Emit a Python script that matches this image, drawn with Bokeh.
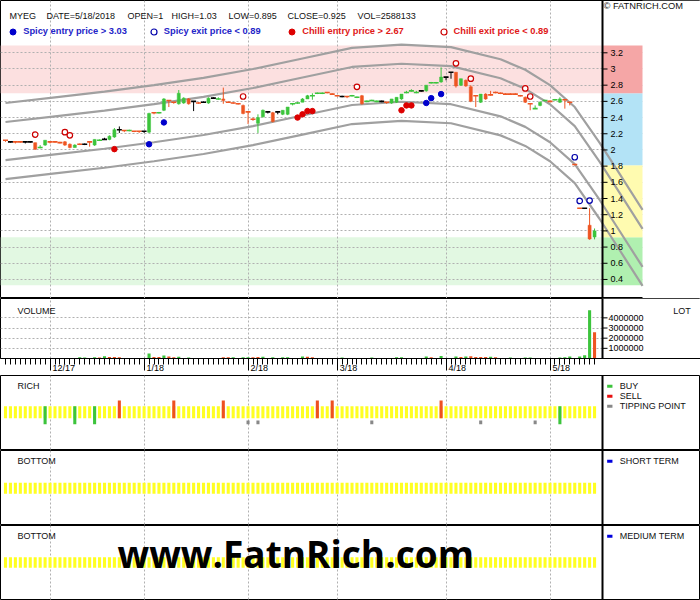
from bokeh.plotting import figure
from bokeh.models import (Range1d, Span, Label, Legend, LegendItem, LinearAxis, FixedTicker,
                          NumeralTickFormatter, Grid)
from bokeh.layouts import column
from bokeh.embed import file_html
from bokeh.resources import INLINE

# ---------------------------------------------------------------- data
header_fields = ["MYEG", "DATE=5/18/2018", "OPEN=1", "HIGH=1.03", "LOW=0.895", "CLOSE=0.925", "VOL=2588133"]
month_labels = ["12/17", "1/18", "2/18", "3/18", "4/18", "5/18"]
month_index = [9, 28, 49, 67, 89, 110]

open_ = [2.12, 2.10, 2.10, 2.10, 2.10, 2.10, 2.09, 2.03, 2.06, 2.10,
         2.10, 2.09, 2.10, 2.07, 2.03, 2.07, 2.07, 2.10, 2.06, 2.12,
         2.13, 2.13, 2.16, 2.25, 2.24, 2.24, 2.23, 2.23, 2.23, 2.22,
         2.46, 2.46, 2.49, 2.61, 2.59, 2.57, 2.58, 2.63, 2.60, 2.58,
         2.59, 2.58, 2.64, 2.63, 2.63, 2.59, 2.58, 2.57, 2.55, 2.47,
         2.38, 2.33, 2.41, 2.47, 2.46, 2.47, 2.44, 2.44, 2.57, 2.58,
         2.59, 2.63, 2.67, 2.70, 2.70, 2.71, 2.69, 2.67, 2.66, 2.66,
         2.67, 2.65, 2.67, 2.60, 2.61, 2.60, 2.60, 2.59, 2.58, 2.59,
         2.63, 2.71, 2.73, 2.71, 2.73, 2.73, 2.83, 2.83, 2.84, 2.90,
         2.96, 2.96, 2.80, 2.86, 2.78, 2.67, 2.59, 2.69, 2.68, 2.71,
         2.70, 2.69, 2.69, 2.69, 2.67, 2.65, 2.57, 2.51, 2.55, 2.61,
         2.60, 2.62, 2.59, 2.62, 2.59, 1.82, 1.28, 1.28, 1.07, 1.00]
high = [2.12, 2.11, 2.10, 2.10, 2.10, 2.11, 2.09, 2.06, 2.12, 2.11,
        2.11, 2.10, 2.11, 2.08, 2.07, 2.08, 2.08, 2.10, 2.13, 2.13,
        2.15, 2.18, 2.27, 2.29, 2.24, 2.25, 2.23, 2.23, 2.23, 2.46,
        2.46, 2.47, 2.64, 2.61, 2.59, 2.74, 2.65, 2.64, 2.60, 2.59,
        2.60, 2.65, 2.65, 2.65, 2.77, 2.60, 2.59, 2.58, 2.56, 2.47,
        2.40, 2.44, 2.50, 2.48, 2.47, 2.47, 2.49, 2.53, 2.58, 2.59,
        2.64, 2.68, 2.70, 2.71, 2.71, 2.71, 2.70, 2.68, 2.67, 2.66,
        2.68, 2.66, 2.68, 2.61, 2.62, 2.61, 2.61, 2.59, 2.63, 2.65,
        2.69, 2.73, 2.75, 2.73, 2.74, 2.80, 2.84, 2.84, 3.02, 2.90,
        2.96, 2.96, 2.88, 2.87, 2.80, 2.67, 2.69, 2.70, 2.73, 2.72,
        2.71, 2.70, 2.70, 2.70, 2.68, 2.66, 2.57, 2.55, 2.60, 2.62,
        2.61, 2.63, 2.65, 2.62, 2.59, 1.82, 1.28, 1.28, 1.28, 1.03]
low = [2.10, 2.09, 2.08, 2.09, 2.08, 2.09, 2.00, 2.02, 2.05, 2.08,
       2.09, 2.08, 2.05, 2.02, 2.03, 2.06, 2.06, 2.04, 2.05, 2.11,
       2.13, 2.12, 2.15, 2.21, 2.22, 2.23, 2.22, 2.21, 2.21, 2.21,
       2.44, 2.45, 2.48, 2.53, 2.57, 2.56, 2.57, 2.56, 2.48, 2.57,
       2.58, 2.57, 2.63, 2.62, 2.57, 2.58, 2.57, 2.56, 2.44, 2.32,
       2.36, 2.21, 2.40, 2.45, 2.34, 2.44, 2.43, 2.43, 2.55, 2.57,
       2.59, 2.63, 2.62, 2.69, 2.69, 2.70, 2.68, 2.66, 2.65, 2.64,
       2.66, 2.64, 2.56, 2.59, 2.60, 2.59, 2.59, 2.57, 2.57, 2.58,
       2.62, 2.70, 2.72, 2.70, 2.72, 2.72, 2.82, 2.82, 2.83, 2.86,
       2.88, 2.77, 2.79, 2.78, 2.59, 2.53, 2.58, 2.62, 2.67, 2.70,
       2.69, 2.68, 2.68, 2.68, 2.66, 2.58, 2.49, 2.51, 2.54, 2.60,
       2.59, 2.61, 2.58, 2.51, 2.55, 1.81, 1.27, 1.27, 0.89, 0.895]
close = [2.12, 2.10, 2.10, 2.10, 2.10, 2.10, 2.01, 2.03, 2.12, 2.10,
         2.10, 2.09, 2.06, 2.03, 2.06, 2.07, 2.07, 2.10, 2.13, 2.12,
         2.13, 2.17, 2.25, 2.25, 2.24, 2.24, 2.23, 2.23, 2.23, 2.45,
         2.46, 2.46, 2.63, 2.61, 2.59, 2.70, 2.64, 2.57, 2.60, 2.58,
         2.59, 2.64, 2.64, 2.63, 2.61, 2.59, 2.58, 2.57, 2.45, 2.47,
         2.38, 2.40, 2.49, 2.47, 2.35, 2.47, 2.49, 2.53, 2.57, 2.58,
         2.63, 2.67, 2.67, 2.70, 2.70, 2.71, 2.69, 2.67, 2.66, 2.66,
         2.67, 2.65, 2.57, 2.60, 2.61, 2.60, 2.60, 2.59, 2.63, 2.65,
         2.69, 2.71, 2.73, 2.71, 2.73, 2.80, 2.83, 2.83, 2.90, 2.90,
         2.96, 2.79, 2.88, 2.79, 2.60, 2.67, 2.69, 2.63, 2.68, 2.71,
         2.70, 2.69, 2.69, 2.69, 2.67, 2.59, 2.57, 2.51, 2.59, 2.61,
         2.60, 2.62, 2.63, 2.62, 2.59, 1.82, 1.28, 1.28, 0.90, 0.925]
# 1 = up (green), -1 = down (red), 0 = unchanged (black)
candle_dir = [-1, 0, -1, -1, 0, 0, -1, 1, 1, -1,
              -1, -1, -1, -1, 1, -1, 0, -1, 1, 1,
              0, 1, 1, 0, -1, 1, -1, -1, 0, 1,
              -1, 1, 1, -1, -1, 1, 1, -1, 0, -1,
              0, 1, 0, 1, -1, -1, -1, -1, -1, -1,
              -1, 1, 1, 0, -1, 0, 1, 1, 1, 1,
              1, 1, 1, 1, 1, -1, -1, -1, 0, -1,
              1, 1, -1, 1, 1, 1, 0, -1, 1, 1,
              1, 1, 1, 1, 0, 1, 1, 1, 1, 0,
              0, -1, 1, -1, -1, -1, 1, -1, -1, -1,
              -1, -1, -1, -1, -1, -1, -1, 1, 1, 1,
              -1, 1, 1, -1, -1, -1, -1, 0, -1, 1]
volume = [30000, 30000, 30000, 30000, 30000, 30000, 30000, 30000, 30000, 30000,
          30000, 30000, 30000, 30000, 30000, 120000, 110000, 30000, 120000, 110000,
          230000, 140000, 140000, 130000, 30000, 30000, 30000, 30000, 30000, 480000,
          150000, 140000, 300000, 200000, 130000, 180000, 30000, 110000, 30000, 30000,
          30000, 30000, 30000, 30000, 120000, 130000, 120000, 30000, 120000, 120000,
          130000, 140000, 170000, 30000, 120000, 30000, 120000, 120000, 30000, 30000,
          200000, 180000, 120000, 30000, 30000, 30000, 30000, 30000, 110000, 30000,
          30000, 30000, 30000, 30000, 110000, 30000, 30000, 30000, 30000, 120000,
          120000, 30000, 30000, 30000, 30000, 200000, 120000, 30000, 250000, 30000,
          30000, 200000, 150000, 200000, 220000, 150000, 150000, 150000, 180000, 130000,
          30000, 30000, 110000, 30000, 30000, 110000, 110000, 30000, 30000, 30000,
          30000, 30000, 110000, 120000, 200000, 30000, 200000, 310000, 4760000, 2588133]
volume_dir = [1, 1, -1, 1, 1, -1, -1, 1, 1, -1,
              -1, 1, -1, -1, 1, 1, 1, 1, 1, -1,
              1, -1, -1, -1, 1, 1, -1, 1, -1, 1,
              -1, -1, 1, -1, -1, 1, 1, 1, -1, 1,
              1, 1, 1, 1, -1, -1, 1, 1, 1, 1,
              -1, -1, 1, 1, 1, 1, 1, 1, 1, 1,
              1, -1, -1, 1, 1, -1, -1, 1, 1, -1,
              1, 1, -1, 1, 1, 1, 1, -1, 1, 1,
              1, 1, 1, 1, 1, 1, -1, 1, 1, 1,
              1, 1, -1, 1, -1, -1, -1, -1, 1, -1,
              1, 1, 1, 1, -1, 1, 1, 1, 1, 1,
              1, 1, 1, 1, 1, -1, 1, 1, 1, -1]

spicy_entry_idx = [29, 32, 85, 86, 88]
spicy_entry_px = [2.07, 2.34, 2.58, 2.64, 2.69]
spicy_exit_idx = [115, 116, 118]
spicy_exit_px = [1.91, 1.37, 1.375]
chilli_entry_idx = [22, 59, 60, 61, 62, 80, 81, 82]
chilli_entry_px = [2.01, 2.40, 2.44, 2.48, 2.48, 2.49, 2.55, 2.55]
chilli_exit_idx = [6, 12, 13, 48, 71, 91, 94, 105, 106]
chilli_exit_px = [2.19, 2.22, 2.18, 2.66, 2.78, 3.07, 2.88, 2.76, 2.66]

trend_idx = [0, 10, 20, 30, 40, 50, 60, 70, 80, 90, 100, 105, 110, 115, 120, 124, 128.7]
trend_mid = [2.11, 2.18, 2.25, 2.33, 2.42, 2.53, 2.66, 2.79, 2.83, 2.80, 2.65, 2.52, 2.33, 2.06, 1.62, 1.24, 0.79]
channel_offsets = [0.47, 0.235, -0.235, -0.47]

zone_edges = [0.33, 0.92, 1.81, 2.70, 3.29]
price_ticks = [0.4, 0.6, 0.8, 1.0, 1.2, 1.4, 1.6, 1.8, 2.0, 2.2, 2.4, 2.6, 2.8, 3.0, 3.2]
volume_ticks = [1000000, 2000000, 3000000, 4000000]

rich_buy = [8, 14, 18, 112]
rich_sell = [23, 34, 44, 63, 66, 88]
rich_tip = [49, 51, 74, 96, 107]
short_term_signals = []
medium_term_signals = []

legend_texts = ["Spicy entry price > 3.03", "Spicy exit price < 0.89",
                "Chilli entry price > 2.67", "Chilli exit price < 0.89"]

# ---------------------------------------------------------------- layout helpers
W = 700
X0, DX = 5.0, 4.95          # pixel of day 0, pixels per trading day


def xi(xr):
    return (xr - X0) / DX


XL, XR = xi(0), xi(700)
XDIV, XTICK, XSTRIP = xi(602), xi(607), xi(642)
FONT = "Liberation Sans"
FS = "9px"

GREEN = "#3cc43c"
RED = "#ee5522"
BLACK = "#000000"
GRID = "#b0b0b0"
YELLOW = "#ffff22"
COL = {1: GREEN, -1: RED, 0: BLACK}

n = len(close)
idx = list(range(n))


def base_fig(h, yr):
    p = figure(width=W, height=h, x_range=Range1d(XL, XR), y_range=yr,
               output_backend="svg", toolbar_location=None,
               x_axis_location=None, y_axis_location=None,
               min_border=0, min_border_left=0, min_border_right=0,
               min_border_top=0, min_border_bottom=0)
    p.center = [c for c in p.center if not isinstance(c, Grid)]
    p.outline_line_color = "black"
    p.outline_line_width = 1
    p.background_fill_color = "white"
    p.border_fill_color = "white"
    p.add_layout(Grid(dimension=0, ticker=FixedTicker(ticks=month_index),
                      grid_line_color=GRID, grid_line_dash="2 2", grid_line_width=1))
    p.add_layout(Span(location=XDIV, dimension="height", line_color="black", line_width=2))
    return p


def txt(p, x, y, s, size=9.0, color="#111111", bold=False, font=FONT):
    p.add_layout(Label(x=x, y=y, text=s, text_font=font, text_font_size="%.2fpx" % size,
                       text_color=color, text_font_style="bold" if bold else "normal",
                       text_align="left", text_baseline="middle"))


# ---------------------------------------------------------------- price panel
H_P = 298


def PY(yr):
    return 3.2 - (yr - 52.3) / 80.95


pr = base_fig(H_P, Range1d(PY(298), PY(0)))
pr.add_layout(Grid(dimension=1, ticker=FixedTicker(ticks=price_ticks),
                   grid_line_color=GRID, grid_line_dash="2 2", grid_line_width=1))
pr.quad(left=[XL, XL], right=[XDIV, XDIV], bottom=[zone_edges[3], zone_edges[0]],
        top=[zone_edges[4], zone_edges[1]], fill_color=["#fce0e0", "#e2f8e2"],
        line_color=None, level="image")
pr.quad(left=[XSTRIP], right=[XR], bottom=[PY(298)], top=[PY(0)], fill_color="white", line_color=None)
pr.quad(left=[XDIV] * 4, right=[XSTRIP] * 4, bottom=zone_edges[:4], top=zone_edges[1:],
        fill_color=["#b0f0b0", "#fffbb0", "#b3e3f6", "#f5a6a6"], line_color=None)
for off in channel_offsets:
    pr.line(trend_idx, [m + off for m in trend_mid], line_color="#a0a0a0", line_width=2.2)
pr.segment(x0=[XDIV] * len(price_ticks), x1=[XTICK] * len(price_ticks), y0=price_ticks, y1=price_ticks,
           line_color="black", line_width=1)
cols = [COL[d] for d in candle_dir]
pr.segment(x0=idx, x1=idx, y0=low, y1=high, line_color=cols, line_width=1)
bi = [i for i in idx if open_[i] != close[i]]
pr.vbar(x=bi, width=0.62, top=[max(open_[i], close[i]) for i in bi],
        bottom=[min(open_[i], close[i]) for i in bi],
        fill_color=[cols[i] for i in bi], line_color=[cols[i] for i in bi], line_width=0.5)
di = [i for i in idx if open_[i] == close[i]]
pr.scatter(x=di, y=[close[i] for i in di], marker="dash", size=5,
           line_color=[cols[i] for i in di], line_width=1.6)
r_se = pr.scatter(spicy_entry_idx, spicy_entry_px, marker="circle", size=5.5,
                  fill_color="#0000cc", line_color="#0000cc")
r_sx = pr.scatter(spicy_exit_idx, spicy_exit_px, marker="circle", size=5.5,
                  fill_color="white", line_color="#0000aa", line_width=1.2)
r_ce = pr.scatter(chilli_entry_idx, chilli_entry_px, marker="circle", size=5.5,
                  fill_color="#dd0000", line_color="#dd0000")
r_cx = pr.scatter(chilli_exit_idx, chilli_exit_px, marker="circle", size=5.5,
                  fill_color="white", line_color="#cc0000", line_width=1.2)

ax = LinearAxis(ticker=FixedTicker(ticks=price_ticks), formatter=NumeralTickFormatter(format="0.[0]"),
                axis_line_color=None, major_tick_line_color=None, minor_tick_line_color=None,
                major_tick_in=0, major_tick_out=0, minor_tick_in=0, minor_tick_out=0,
                major_label_standoff=int(round(609.5 - W)),
                major_label_text_font=FONT, major_label_text_font_size=FS,
                major_label_text_color="black")
pr.add_layout(ax, "right")

hx = [9, 46, 127, 171, 228, 287, 357]
for x, s in zip(hx, header_fields):
    txt(pr, xi(x), PY(15.3), s)
txt(pr, xi(603), PY(5.5), "\u00a9 FATNRICH.COM", size=9.3)

leg_specs = [(r_se, legend_texts[0], 12.7, "#2424c8"),
             (r_sx, legend_texts[1], 153.3, "#2424c8"),
             (r_ce, legend_texts[2], 291.7, "#e01818"),
             (r_cx, legend_texts[3], 443.0, "#e01818")]
G = 15
for r, lab, xc, c in leg_specs:
    leg = Legend(items=[LegendItem(label=lab, renderers=[r])],
                 location=(xc - G / 2.0, H_P - 31 - G / 2.0),
                 orientation="vertical", padding=0, margin=0, spacing=0,
                 glyph_width=G, glyph_height=G, label_height=G, label_standoff=3,
                 border_line_color=None, background_fill_alpha=0,
                 label_text_font=FONT, label_text_font_size="9.3px",
                 label_text_font_style="bold", label_text_color=c)
    pr.add_layout(leg)

# ---------------------------------------------------------------- volume panel
H_V = 77


def VY(yr):
    return (360 - yr) / 10.5 * 1e6


vo = base_fig(H_V, Range1d(0, VY(298)))
vo.add_layout(Grid(dimension=1, ticker=FixedTicker(ticks=volume_ticks),
                   grid_line_color=GRID, grid_line_dash="2 2", grid_line_width=1))
vo.quad(left=[XDIV], right=[XR], bottom=[0], top=[VY(298)], fill_color="white", line_color=None)
vcols = [GREEN if d > 0 else RED for d in volume_dir]
vo.vbar(x=idx, width=0.62, top=volume, bottom=0, fill_color=vcols, line_color=None)
vo.segment(x0=[XDIV] * 4, x1=[XTICK] * 4, y0=volume_ticks, y1=volume_ticks, line_color="black")
vax = LinearAxis(ticker=FixedTicker(ticks=volume_ticks), formatter=NumeralTickFormatter(format="0"),
                 axis_line_color=None, major_tick_line_color=None, minor_tick_line_color=None,
                 major_tick_in=0, major_tick_out=0, minor_tick_in=0, minor_tick_out=0,
                 major_label_standoff=int(round(608.5 - W)),
                 major_label_text_font=FONT, major_label_text_font_size=FS,
                 major_label_text_color="black")
vo.add_layout(vax, "right")

# month labels sit just right of their tick: pad with no-break spaces (labels are centred)
CW = {"/": 0.278}


def tick_label(s):
    w = sum(CW.get(ch, 0.556) for ch in s) * 9
    k = int(round((6 + w) / (0.278 * 9)))
    return "\u00a0" * k + s


xax = LinearAxis(ticker=FixedTicker(ticks=month_index, minor_ticks=idx),
                 major_label_overrides={m: tick_label(s) for m, s in zip(month_index, month_labels)},
                 axis_line_color="black", major_tick_line_color="black", minor_tick_line_color="black",
                 major_tick_in=0, major_tick_out=12, minor_tick_in=0, minor_tick_out=6,
                 major_label_standoff=-8,
                 major_label_text_font=FONT, major_label_text_font_size=FS,
                 major_label_text_color="black")
vo.add_layout(xax, "below")
txt(vo, xi(17), VY(310.5), "VOLUME")
txt(vo, xi(672.7), VY(310.7), "LOT")

# ---------------------------------------------------------------- signal panels
H_S = 75


def signal_fig(title):
    p = base_fig(H_S, Range1d(75, 0))
    txt(p, xi(17), 10.7, title)
    return p


ri = signal_fig("RICH")
ri.vbar(x=idx, width=0.62, top=30.7, bottom=42.7, fill_color=YELLOW, line_color=None)
ri.vbar(x=rich_sell, width=0.62, top=25, bottom=42.7, fill_color="#ee5020", line_color=None)
ri.vbar(x=rich_buy, width=0.62, top=30.7, bottom=48.7, fill_color=GREEN, line_color=None)
ri.vbar(x=rich_tip, width=0.62, top=45, bottom=48.7, fill_color="#888888", line_color=None)
for k, (lab, c) in enumerate([("BUY", GREEN), ("SELL", "#e81010"), ("TIPPING POINT", "#888888")]):
    yy = 10.7 + 10 * k
    ri.rect(x=[xi(609.3)], y=[yy], width=5.3 / DX, height=3, fill_color=c, line_color=None)
    txt(ri, xi(619.3), yy, lab)

b1 = signal_fig("BOTTOM")
b1.vbar(x=idx, width=0.62, top=32.3, bottom=43.3, fill_color=YELLOW, line_color=None)
b1.vbar(x=short_term_signals, width=0.62, top=25, bottom=43.3, fill_color="#0000dd", line_color=None)
b1.rect(x=[xi(609.3)], y=[10.7], width=5.3 / DX, height=3, fill_color="#0000dd", line_color=None)
txt(b1, xi(619.3), 10.7, "SHORT TERM")

b2 = signal_fig("BOTTOM")
b2.vbar(x=idx, width=0.62, top=31.7, bottom=42.3, fill_color=YELLOW, line_color=None)
b2.vbar(x=medium_term_signals, width=0.62, top=25, bottom=42.3, fill_color="#0000dd", line_color=None)
b2.rect(x=[xi(609.3)], y=[10.7], width=5.3 / DX, height=3, fill_color="#0000dd", line_color=None)
txt(b2, xi(619.3), 10.7, "MEDIUM TERM")
txt(b2, xi(117), 28, "www.FatnRich.com", size=37, color="#000000", bold=True, font="Open Sans")

layout = column(pr, vo, ri, b1, b2, spacing=0)
open("out.html", "w").write(file_html(layout, INLINE))
